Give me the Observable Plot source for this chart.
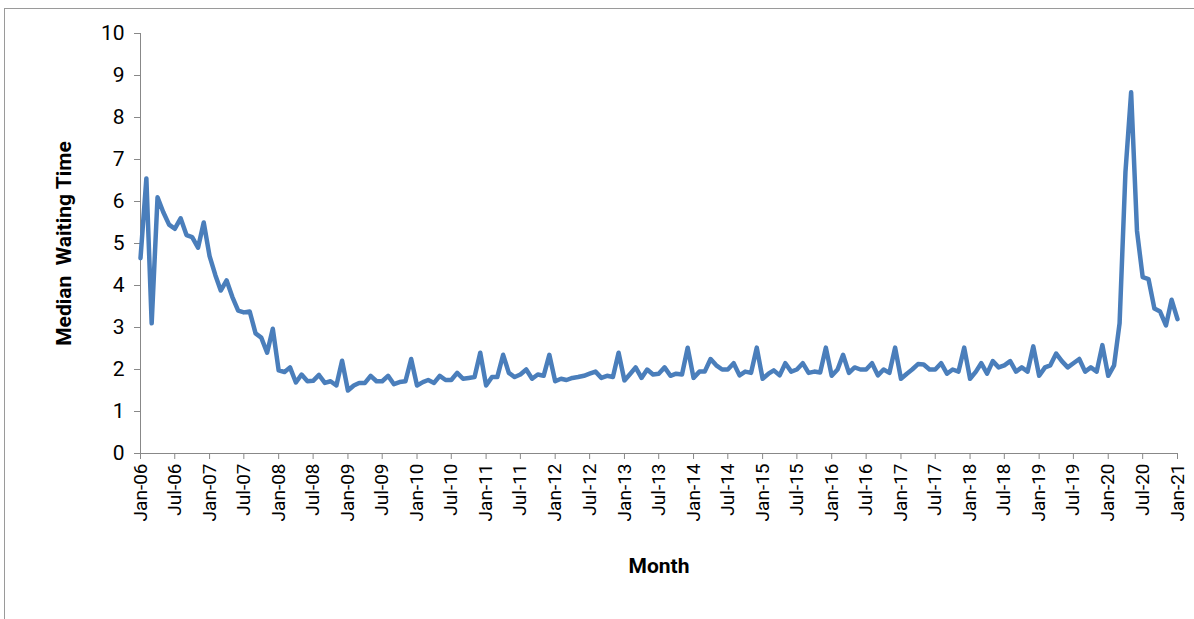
<!DOCTYPE html>
<html>
<head>
<meta charset="utf-8">
<script src="https://cdn.jsdelivr.net/npm/d3@7"></script>
<script src="https://cdn.jsdelivr.net/npm/@observablehq/plot@0.6"></script>
<style>
  body { margin: 0; background: #fff; }
  #frame { position: absolute; left: 4px; top: 8px; width: 1190px; height: 620px; border: 1px solid #9a9a9a; border-right: none; border-bottom: none; }
  #chart { position: absolute; left: 0; top: 0; }
</style>
</head>
<body>
<div id="frame"></div>
<div id="chart"></div>
<script>
// valeurs mensuelles, janv. 2006 -> janv. 2021
const startYear = 2006
const medianWait = [
  4.65, 6.55, 3.1, 6.1, 5.75, 5.45, 5.35, 5.6, 5.2, 5.15, 4.9, 5.5,
  4.7, 4.24, 3.88, 4.12, 3.73, 3.4, 3.36, 3.38, 2.86, 2.76, 2.4, 2.97,
  1.98, 1.94, 2.05, 1.69, 1.88, 1.72, 1.73, 1.87, 1.68, 1.72, 1.62, 2.21,
  1.5, 1.62, 1.68, 1.68, 1.85, 1.72, 1.72, 1.85, 1.65, 1.7, 1.72, 2.25,
  1.62, 1.7, 1.75, 1.68, 1.85, 1.75, 1.75, 1.92, 1.78, 1.8, 1.82, 2.4,
  1.62, 1.82, 1.82, 2.35, 1.92, 1.82, 1.88, 2.0, 1.78, 1.88, 1.85, 2.35,
  1.72, 1.78, 1.75, 1.8, 1.82, 1.85, 1.9, 1.95, 1.8, 1.85, 1.82, 2.4,
  1.74, 1.9, 2.05, 1.8, 2.0, 1.88, 1.9, 2.05, 1.85, 1.9, 1.88, 2.52,
  1.8, 1.95, 1.95, 2.25, 2.1, 2.0, 2.0, 2.15, 1.86, 1.95, 1.92, 2.52,
  1.78, 1.9, 1.98, 1.86, 2.15, 1.95, 2.0, 2.15, 1.92, 1.95, 1.93, 2.52,
  1.85, 2.0, 2.35, 1.92, 2.05, 2.0, 2.0, 2.15, 1.86, 2.0, 1.92, 2.52,
  1.78, 1.9, 2.0, 2.13, 2.12, 2.0, 2.0, 2.15, 1.9, 2.0, 1.95, 2.52,
  1.78, 1.95, 2.15, 1.9, 2.2, 2.05, 2.1, 2.2, 1.95, 2.05, 1.95, 2.55,
  1.85, 2.05, 2.1, 2.38, 2.2, 2.05, 2.15, 2.25, 1.95, 2.05, 1.95, 2.58,
  1.85, 2.1, 3.1, 6.7, 8.6, 5.3, 4.2, 4.15, 3.45, 3.38, 3.05, 3.66,
  3.2
]
const yTicks = [0, 1, 2, 3, 4, 5, 6, 7, 8, 9, 10]

const data = medianWait.map((v, i) => ({ month: new Date(Date.UTC(startYear, i, 1)), value: v }))
const x0 = data[0].month, x1 = data[data.length - 1].month
const xTicks = d3.utcMonth.every(6).range(x0, d3.utcMonth.offset(x1, 1))

const chart = Plot.plot({
  width: 1194,
  height: 600,
  marginLeft: 140,
  marginRight: 17,
  marginTop: 33,
  marginBottom: 147,
  style: { fontFamily: "Roboto, sans-serif", fontSize: "19px", color: "#000" },
  x: { type: "utc", domain: [x0, x1] },
  y: { domain: [0, 10] },
  marks: [
    Plot.axisY({ ticks: yTicks, tickSize: 6, tickPadding: 10, stroke: "#888", fontSize: 21, label: null }),
    Plot.axisX({ ticks: xTicks, tickFormat: d3.utcFormat("%b-%y"), tickRotate: -90, tickSize: 6, tickPadding: 4, stroke: "#888", fontSize: 19, label: null }),
    Plot.ruleX([x0], { stroke: "#888" }),
    Plot.ruleY([0], { stroke: "#888" }),
    Plot.line(data, { x: "month", y: "value", stroke: "#4a7ebb", strokeWidth: 4.5, strokeLinejoin: "round" }),
    Plot.text(["Median  Waiting Time"], { frameAnchor: "left", dx: -76, rotate: -90, textAnchor: "middle", fontWeight: "bold", fontSize: 21 }),
    Plot.text(["Month"], { frameAnchor: "bottom", dy: 119, fontWeight: "bold", fontSize: 21 })
  ]
})
document.getElementById("chart").append(chart)
</script>
</body>
</html>
